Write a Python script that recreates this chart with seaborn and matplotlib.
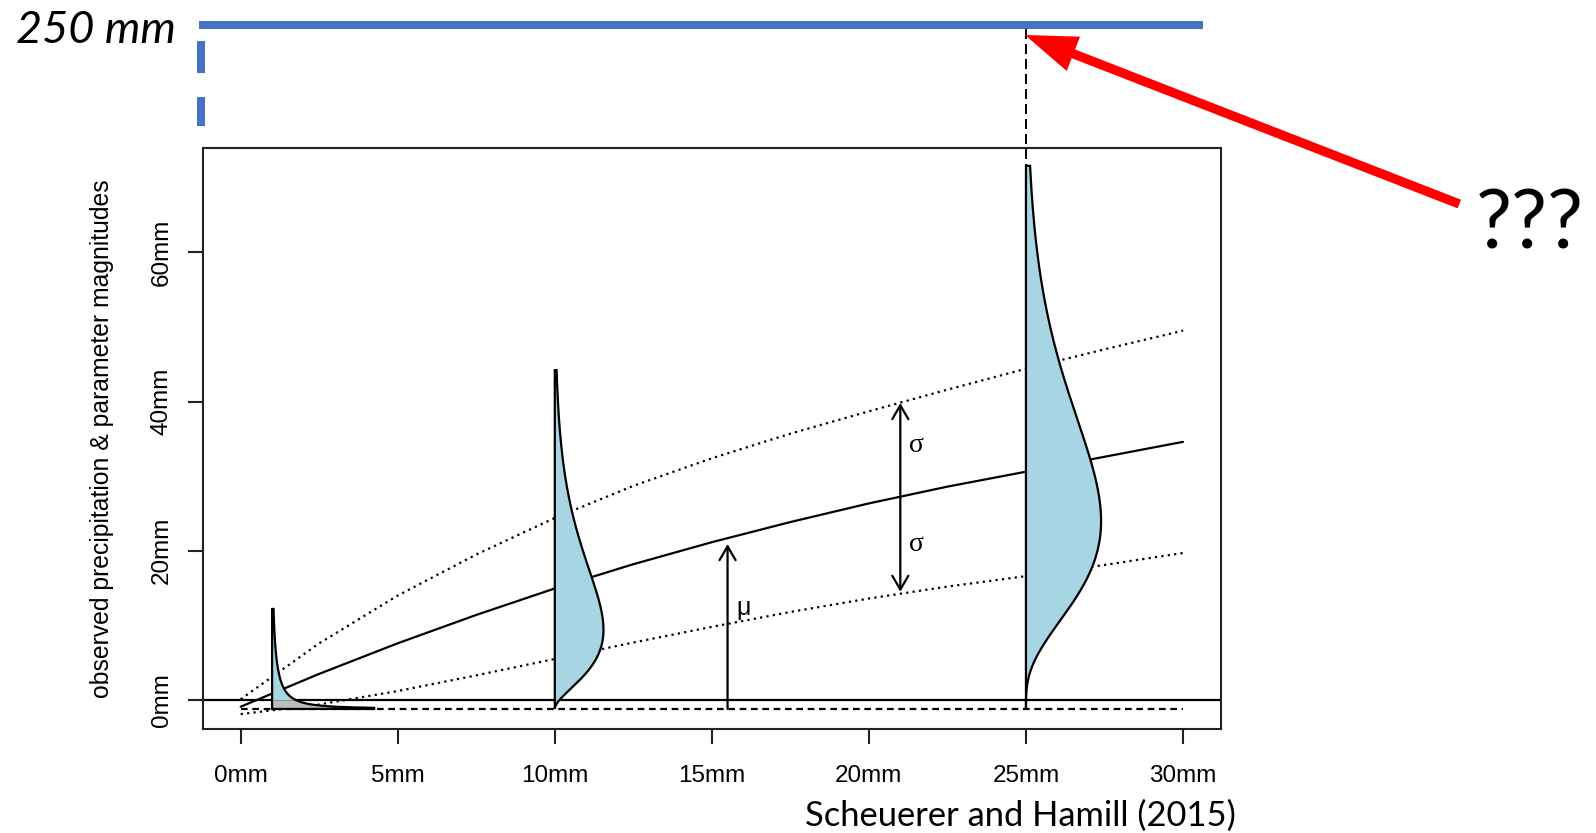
import numpy as np
import pandas as pd
import matplotlib
matplotlib.use("Agg")
import matplotlib.pyplot as plt
import seaborn as sns
from math import lgamma
from matplotlib.patches import FancyArrow
from matplotlib.transforms import blended_transform_factory

# ---------------- data ----------------
forecast = [0, 2.5, 5, 7.5, 10, 12.5, 15, 17.5, 20, 22.5, 25, 27.5, 30]
mu = [-0.9, 3.5, 7.6, 11.4, 14.95, 18.2, 21.15, 23.85, 26.35, 28.6, 30.6, 32.6, 34.6]
mu_plus_sigma = [0.1, 7.6, 14.0, 19.5, 24.4, 28.7, 32.4, 35.7, 38.7, 41.6, 44.4, 47.0, 49.5]
mu_minus_sigma = [-1.9, -0.6, 1.2, 3.3, 5.5, 7.7, 9.8, 11.8, 13.6, 15.2, 16.6, 18.1, 19.7]

shift = -1.2                      # gamma shift (dashed line)
shift_line_x = [0, 30]

pdf_forecast = [1, 10, 25]        # forecasts where a predictive pdf is drawn
pdf_shape = [0.35, 2.8, 4.5]
pdf_scale = [10.0, 5.9, 7.2]
pdf_hscale = [5.43, 32.2, 82.7]   # horizontal size of the drawn density
pdf_top = [12.2, 44.2, 71.6]
pdf_start = [-1.052, -1.2, -1.2]

mu_arrow = (15.5, 20.9)           # x, tip
sigma_arrow_x = 21.0
sigma_arrow_mid = 27.3
sigma_arrow_up = 39.8
sigma_arrow_down = 14.5

xtick_vals = [0, 5, 10, 15, 20, 25, 30]
xtick_labels = ["0mm", "5mm", "10mm", "15mm", "20mm", "25mm", "30mm"]
ytick_vals = [0, 20, 40, 60]
ytick_labels = ["0mm", "20mm", "40mm", "60mm"]
ylabel = "observed precipitation & parameter magnitudes"

# slide annotations (pixel positions on the slide)
W, H = 1596, 833
blue_top = dict(x=[199, 1203], y=[25, 25])
blue_vert = dict(x=[201, 201], y=[41, 126])
dash_ref_y = [29, 177]
red_arrow = dict(tail=(1459.3, 204.0), tip=(1025.0, 35.0))

# ---------------- styling ----------------
sns.set_theme(style="white")
plt.rcParams["font.family"] = ["Liberation Sans", "DejaVu Sans"]
plt.rcParams["text.color"] = "black"
plt.rcParams["axes.labelcolor"] = "black"

LB = "#A8D5E3"
GR = "#BDBDBD"
BLUE = "#4472C4"
LW = 1.6

fig = plt.figure(figsize=(W / 100, H / 100), dpi=100)
ax = fig.add_axes([203 / W, 1 - 729.3 / H, (1220.7 - 203) / W, (729.3 - 148.3) / H])

df = pd.DataFrame({
    "forecast": forecast * 3,
    "value": mu + mu_plus_sigma + mu_minus_sigma,
    "curve": ["mu"] * len(forecast) + ["upper"] * len(forecast) + ["lower"] * len(forecast),
})
sns.lineplot(data=df, x="forecast", y="value", hue="curve", style="curve",
             palette={"mu": "black", "upper": "black", "lower": "black"},
             dashes={"mu": "", "upper": (1, 1.9), "lower": (1, 1.9)},
             linewidth=LW, legend=False, estimator=None, ax=ax)

ax.plot(shift_line_x, [shift, shift], color="black", lw=LW, ls=(0, (3.0, 2.1)))
ax.axhline(0, color="black", lw=LW)

# predictive densities
for f, k, th, hs, top, start in zip(pdf_forecast, pdf_shape, pdf_scale, pdf_hscale, pdf_top, pdf_start):
    u0 = max(start - shift, 1e-4)
    u = np.unique(np.concatenate([np.geomspace(u0, top - shift, 900),
                                  np.linspace(u0, top - shift, 900), [-shift]]))
    dens = np.exp((k - 1) * np.log(u) - u / th - lgamma(k) - k * np.log(th))
    y = shift + u
    x = f + hs * dens
    up = y >= 0
    ax.fill_betweenx(y[up], f, x[up], color=LB, lw=0, zorder=3)
    yl = np.r_[shift, y[~up], 0.0]
    xl = np.r_[x[0], x[~up], x[up][0]]
    ax.fill_betweenx(yl, f, xl, color=GR, lw=0, zorder=3)
    ax.plot(np.r_[f, f, x[0], x, f], np.r_[top, shift, shift, y, top],
            color="black", lw=LW, zorder=4, solid_joinstyle="miter")

# arrows
aprops = dict(arrowstyle="->,head_length=10,head_width=5.8", mutation_scale=1,
              lw=LW, color="black", shrinkA=0, shrinkB=0)
ax.annotate("", xy=(mu_arrow[0], mu_arrow[1]), xytext=(mu_arrow[0], shift), arrowprops=aprops)
ax.annotate("", xy=(sigma_arrow_x, sigma_arrow_up), xytext=(sigma_arrow_x, sigma_arrow_mid), arrowprops=aprops)
ax.annotate("", xy=(sigma_arrow_x, sigma_arrow_down), xytext=(sigma_arrow_x, sigma_arrow_mid), arrowprops=aprops)
serif = ["Liberation Serif", "DejaVu Serif"]
ax.text(21.5, 33.3, "σ", fontsize=20, family=serif, ha="center", va="baseline")
ax.text(21.5, 20.0, "σ", fontsize=20, family=serif, ha="center", va="baseline")
ax.text(16.0, 11.4, "μ", fontsize=18, ha="center", va="baseline")

ax.set_xlim(-1.2, 31.2)
ax.set_ylim(-3.93, 73.95)
ax.set_xticks(xtick_vals)
ax.set_xticklabels(xtick_labels, fontsize=17.5)
ax.set_yticks(ytick_vals)
ax.set_yticklabels(ytick_labels, fontsize=17.5, rotation=90, va="center")
ax.tick_params(direction="out", length=10.8, width=1.5, color="#222222", labelcolor="black",
               bottom=True, left=True)
ax.tick_params(axis="x", pad=15)
ax.tick_params(axis="y", pad=11)
ax.set_xlabel("")
ax.set_ylabel(ylabel, fontsize=17.8)
ax.yaxis.set_label_coords(-0.0872, 0.5)
for s in ax.spines.values():
    s.set_color("#222222")
    s.set_linewidth(1.5)
    s.set_visible(True)
ax.grid(False)

# ---------------- slide overlay ----------------
ov = fig.add_axes([0, 0, 1, 1], zorder=10)
ov.set_xlim(0, W)
ov.set_ylim(H, 0)
ov.axis("off")
ov.patch.set_alpha(0)

ov.plot(blue_top["x"], blue_top["y"], color=BLUE, lw=5.76, solid_capstyle="butt")
ov.plot(blue_vert["x"], blue_vert["y"], color=BLUE, lw=5.76, ls=(0, (4.0, 3.0)), dash_capstyle="butt")

tr = blended_transform_factory(ax.transData, ov.transData)
ax.plot([25, 25], dash_ref_y, transform=tr, color="black", lw=1.44, ls=(0, (5, 2.5)), clip_on=False, zorder=12)

(tx, ty), (hx, hy) = red_arrow["tail"], red_arrow["tip"]
ov.add_patch(FancyArrow(tx, ty, hx - tx, hy - ty, width=9.3, head_width=36.8, head_length=51.9,
                        length_includes_head=True, color="#FF0000", lw=0))

lato = ["Lato", "DejaVu Sans"]
ov.text(16, 42.7, "250 mm", fontsize=32.5, style="italic", family=lato,
        ha="left", va="baseline", color="black")
ov.text(1476, 248, "???", fontsize=58, family=lato, ha="left", va="baseline", color="black")
ov.text(1020, 826, "Scheuerer and Hamill (2015)", fontsize=24.8, family=lato,
        ha="center", va="baseline", color="black")

fig.savefig("out.png", dpi=100)
